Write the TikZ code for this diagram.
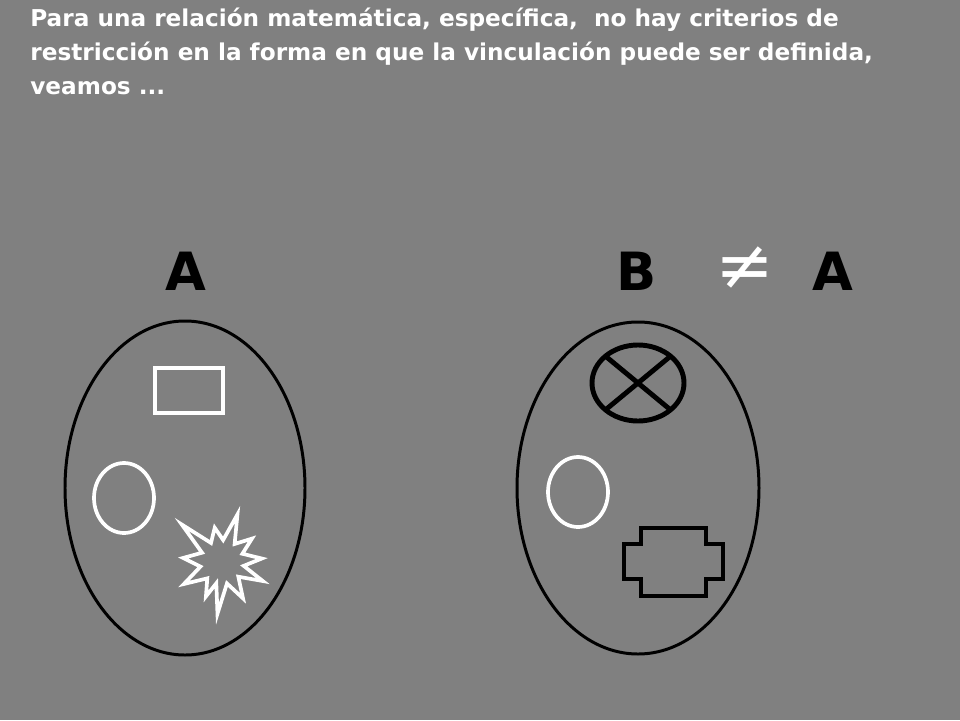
\documentclass[tikz,border=0pt]{standalone}
\usepackage{fontspec}
\setmainfont{DejaVu Sans}
\usetikzlibrary{positioning}
\definecolor{fondo}{RGB}{128,128,128}
\tikzset{
  conjunto/.style={draw=black, line width=1.7pt},
  blanco/.style={draw=white, line width=2.1pt},
  negro/.style={draw=black, line width=2.8pt},
  letra/.style={font=\bfseries\fontsize{30}{30}\selectfont, inner sep=0pt}
}

\begin{document}
\begin{tikzpicture}[x=0.02cm,y=-0.02cm]
% fondo
\fill[fondo] (0,0) rectangle (960,720);
% texto
\node[anchor=north west, text=white, align=left, inner sep=0pt,
  font=\bfseries\fontsize{13.2}{19.3}\selectfont] (intro) at (30,8)
  {Para una relación matemática, específica,\ \ no hay criterios de\\
   restricción en la forma en que la vinculación puede ser definida,\\
   veamos ...};
% letras
\node[letra] (letraA) at (186,271) {A};
\node[letra] (letraB) at (637,271) {B};
\node[letra, text=white, font=\mdseries\fontsize{40}{40}\selectfont] (distinto) at (745,268) {≠};
\node[letra] (letraA2) at (833,271) {A};
% A
\draw[conjunto] (185,488) ellipse [x radius=120, y radius=167];
\draw[blanco] (155,368) rectangle (223,413); % rectangulo
\draw[blanco] (124,498) ellipse [x radius=30, y radius=35]; % circulo
\begin{scope}[shift={(222,562)}, yscale=-1]
\draw[blanco, line join=miter, miter limit=20] (72:50) -- (87:22) -- (102:35) -- (120:22)
  -- (137:55) -- (155:22) -- (174:39) -- (192:22) -- (210:44) -- (228:22)
  -- (245:38) -- (255:22) -- (265:52) -- (283:22) -- (300:42) -- (318:22)
  -- (335:45) -- (350:22) -- (5:40) -- (22:22) -- (38:38) -- (55:22) -- cycle; % estrella
\end{scope}
% B
\draw[conjunto] (638,488) ellipse [x radius=121, y radius=166];
\draw[negro] (638,383) ellipse [x radius=46, y radius=38]; % circulo cruzado
\draw[negro] ([shift={(45:46 and 38)}]638,383) -- ([shift={(225:46 and 38)}]638,383);
\draw[negro] ([shift={(135:46 and 38)}]638,383) -- ([shift={(315:46 and 38)}]638,383);
\draw[blanco] (578,492) ellipse [x radius=30, y radius=35]; % circulo
\draw[negro, line join=miter] (641,528) -- (706,528) -- (706,544) -- (723,544) -- (723,579)
  -- (706,579) -- (706,596) -- (641,596) -- (641,579) -- (624,579) -- (624,544)
  -- (641,544) -- cycle; % cruz
\end{tikzpicture}
\end{document}
